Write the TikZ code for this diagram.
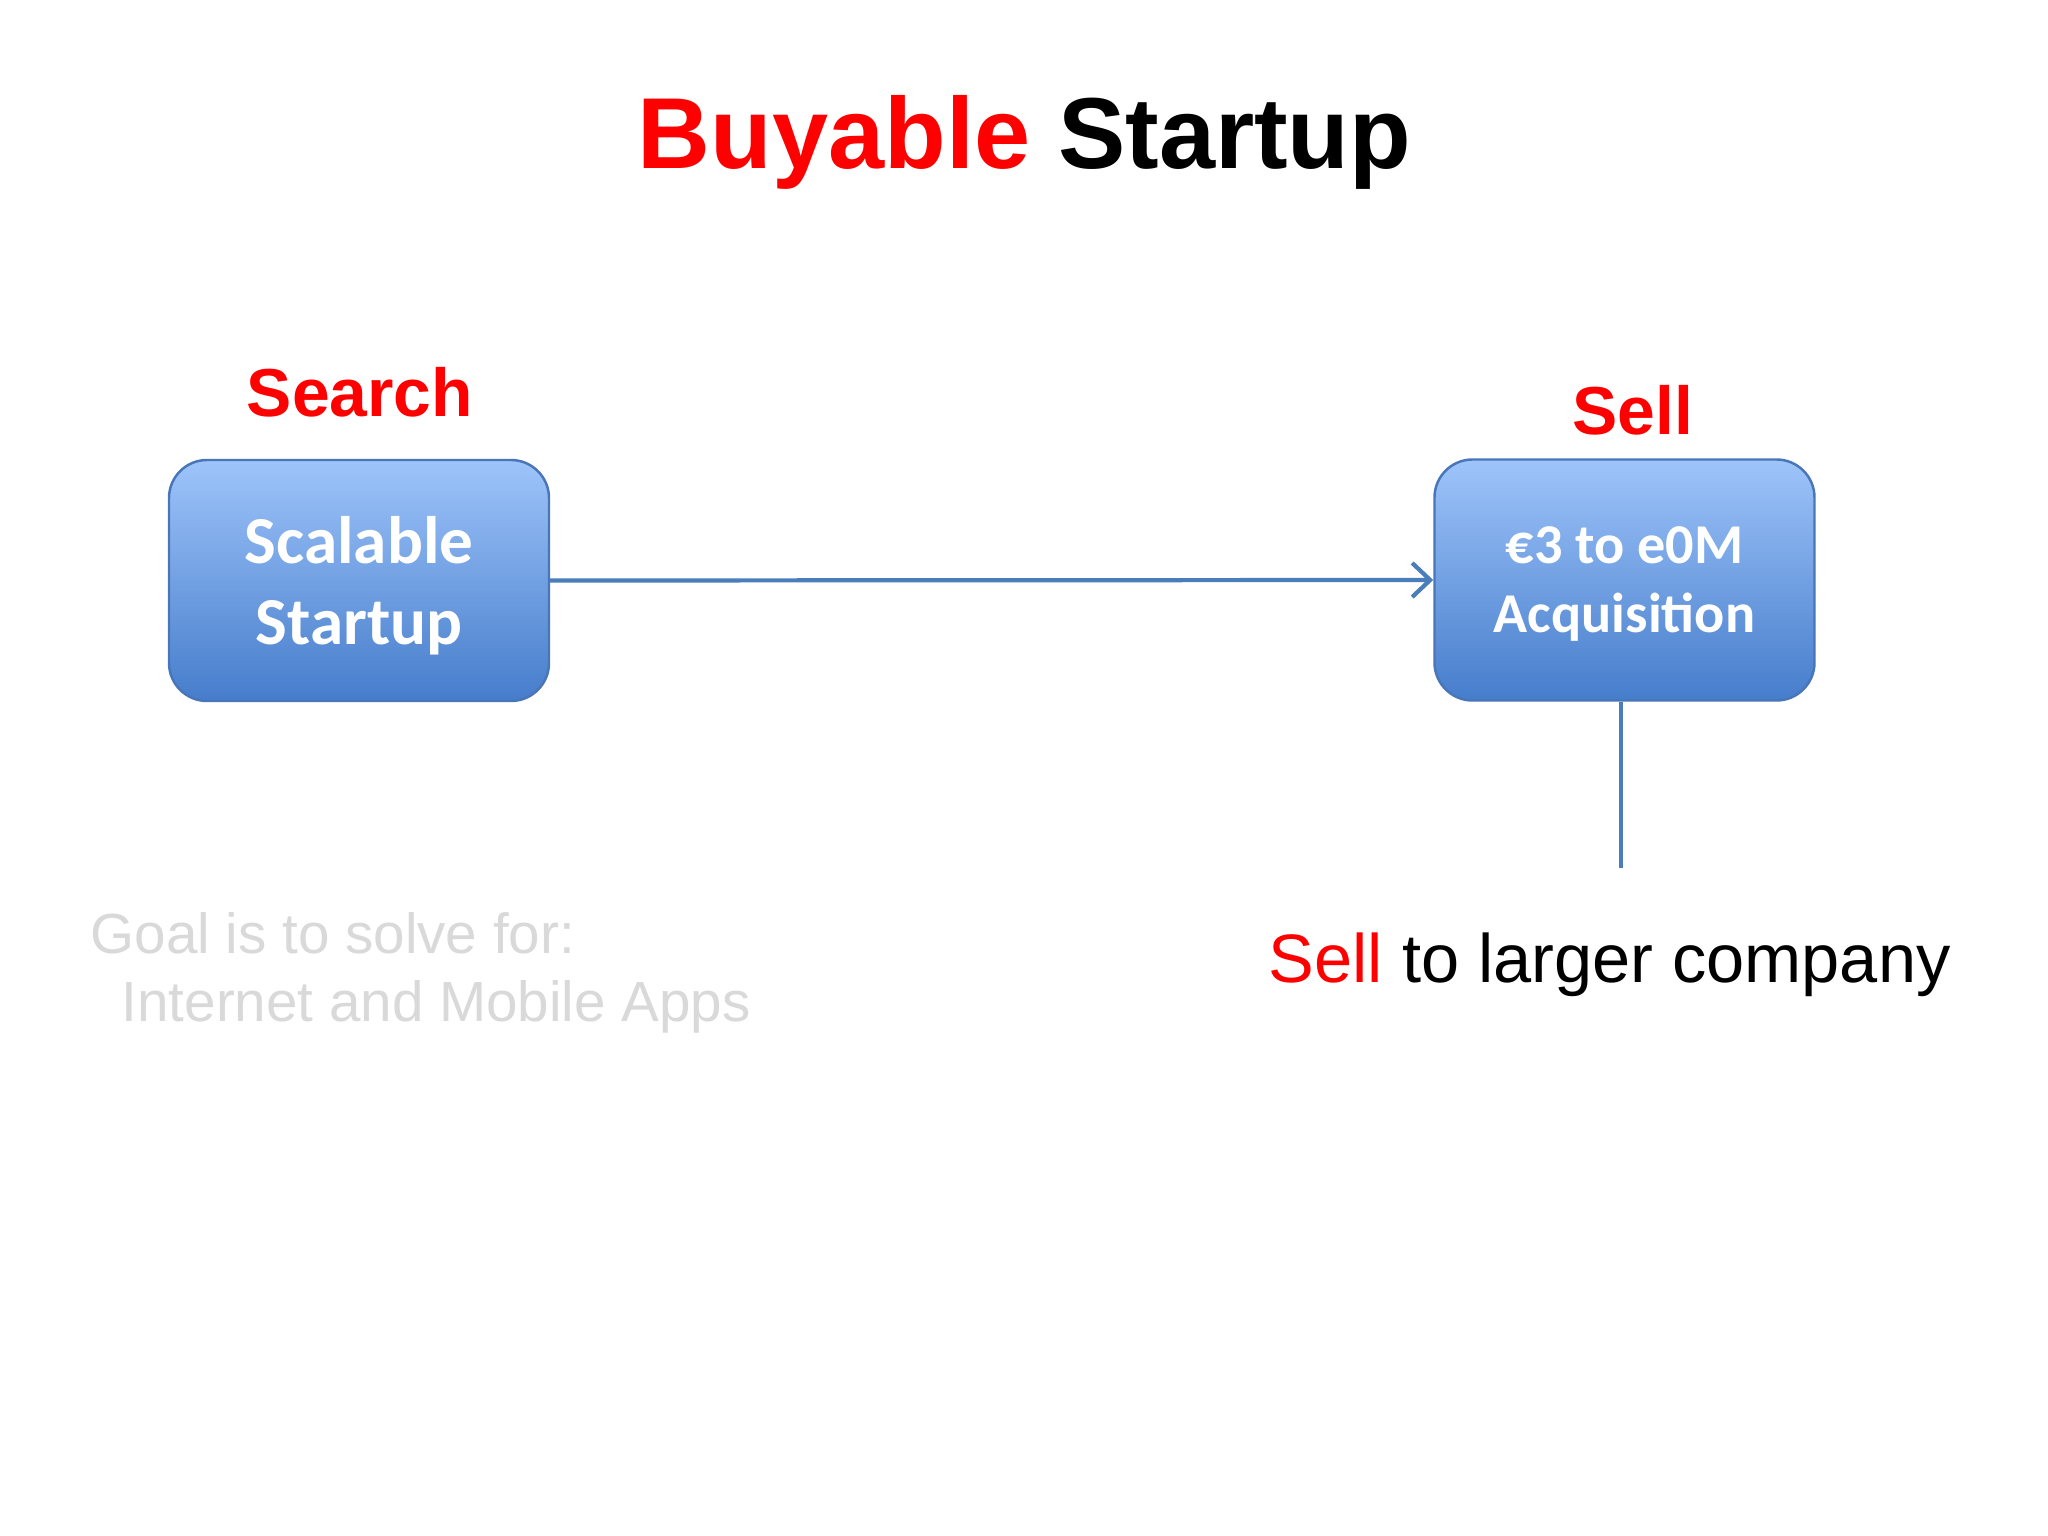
\documentclass[tikz,border=0pt]{standalone}
\usepackage{fontspec}
\setmainfont{Liberation Sans}
\newfontfamily\boxfont{Carlito}
\usetikzlibrary{arrows.meta}

\definecolor{titlered}{RGB}{255,0,0}
\definecolor{boxtop}{RGB}{158,196,250}
\definecolor{boxbottom}{RGB}{70,125,203}
\definecolor{boxline}{RGB}{72,118,185}
\definecolor{linkblue}{RGB}{74,126,187}
\definecolor{goalgray}{RGB}{217,217,217}

\tikzset{
    stagebox/.style={draw=boxline, line width=0.7pt, rounded corners=0.38cm,
        top color=boxtop, bottom color=boxbottom, text=white, align=center,
        minimum width=3.8cm, minimum height=2.41cm, inner sep=0pt, text depth=0pt},
    phase/.style={anchor=base, text=titlered, font=\fontsize{19.3}{23}\selectfont\bfseries},
    note/.style={anchor=base west, inner sep=0pt},
    link/.style={draw=linkblue, line width=1.2pt}
}

\begin{document}
\begin{tikzpicture}
    \useasboundingbox[fill=white] (0,0) rectangle (20.48,-15.36);

    % Title
    \node[anchor=base, font=\fontsize{28.7}{34}\selectfont\bfseries] (title) at (10.245,-1.69)
        {\textcolor{titlered}{Buyable} Startup};

    % Search
    \node[phase] (search) at (3.60,-4.17) {Search};
    \node[stagebox, font=\boxfont\fontsize{19.1}{23.3}\selectfont\bfseries] (scalable) at (3.59,-5.805)
        {Scalable\\Startup};

    % Sell
    \node[phase] (sell) at (16.33,-4.35) {Sell};
    \node[stagebox, font=\boxfont\fontsize{16.0}{19.6}\selectfont\bfseries] (acquisition) at (16.245,-5.80)
        {€3 to e0M\\Acquisition};
    \coordinate (drop) at (16.21,-8.68);

    % Connectors
    \draw[link, -{Straight Barb[length=1.8mm, width=3.4mm]}] (scalable.east) -- (acquisition.west);
    \draw[link] (acquisition.south -| drop) -- (drop);

    % Notes
    \node[note, text=goalgray, font=\fontsize{16.1}{19.6}\selectfont] (goal) at (0.90,-9.53)
        {Goal is to solve for:};
    \node[note, text=goalgray, font=\fontsize{16.1}{19.6}\selectfont] (apps) at (1.21,-10.22)
        {Internet and Mobile Apps};
    \node[note, font=\fontsize{19.5}{24}\selectfont] (buyer) at (12.68,-9.82)
        {\textcolor{titlered}{Sell} to larger company};
\end{tikzpicture}
\end{document}
